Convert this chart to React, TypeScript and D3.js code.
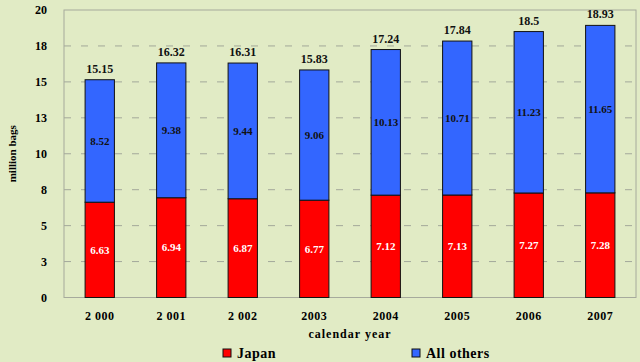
import React, { useEffect, useRef } from 'react';
import * as d3 from 'd3';

const years = ['2 000', '2 001', '2 002', '2003', '2004', '2005', '2006', '2007'];
const japan = [6.63, 6.94, 6.87, 6.77, 7.12, 7.13, 7.27, 7.28];
const others = [8.52, 9.38, 9.44, 9.06, 10.13, 10.71, 11.23, 11.65];
const totals = ['15.15', '16.32', '16.31', '15.83', '17.24', '17.84', '18.5', '18.93'];
const yTicks = [0, 2.5, 5, 7.5, 10, 12.5, 15, 17.5, 20];
const yTickLabels = ['0', '3', '5', '8', '10', '13', '15', '18', '20'];

const W = 640;
const H = 362;
const FONT = '"Liberation Serif", "Times New Roman", serif';

export default function App() {
  const svgRef = useRef<SVGSVGElement>(null);

  useEffect(() => {
    const svg = d3.select(svgRef.current);
    svg.selectAll('*').remove();

    const margin = { top: 10, right: 4, bottom: 64.5, left: 64 };

    svg.append('rect').attr('width', W).attr('height', H).attr('fill', '#e1ebc5');

    const x = d3.scaleBand()
      .domain(years)
      .range([margin.left, W - margin.right])
      .paddingInner(0.59)
      .paddingOuter(0.295);

    const y = d3.scaleLinear()
      .domain([0, 20])
      .range([H - margin.bottom, margin.top]);

    // grid lines
    svg.append('g')
      .selectAll('line')
      .data(yTicks.filter(t => t > 0 && t < 20))
      .enter()
      .append('line')
      .attr('x1', margin.left)
      .attr('x2', W - margin.right)
      .attr('y1', d => y(d))
      .attr('y2', d => y(d))
      .attr('stroke', '#a3a89a')
      .attr('stroke-width', 1)
      .attr('stroke-dasharray', '7,10');

    // plot frame
    svg.append('rect')
      .attr('x', margin.left)
      .attr('y', margin.top)
      .attr('width', W - margin.right - margin.left)
      .attr('height', y(0) - margin.top)
      .attr('fill', 'none')
      .attr('stroke', '#a6aa9c')
      .attr('stroke-width', 1);

    // y axis tick labels
    svg.append('g')
      .selectAll('text')
      .data(yTicks)
      .enter()
      .append('text')
      .attr('x', margin.left - 17)
      .attr('y', d => y(d))
      .attr('dy', '0.35em')
      .attr('text-anchor', 'end')
      .style('font-family', FONT)
      .style('font-weight', 'bold')
      .style('font-size', '12px')
      .text((d, i) => yTickLabels[i]);

    // bars
    const groups = svg.append('g')
      .selectAll('g')
      .data(years)
      .enter()
      .append('g');

    groups.append('rect')
      .attr('x', d => x(d)!)
      .attr('y', (d, i) => y(japan[i]))
      .attr('width', x.bandwidth())
      .attr('height', (d, i) => y(0) - y(japan[i]))
      .attr('fill', '#ff0000')
      .attr('stroke', '#111')
      .attr('stroke-width', 1);

    groups.append('rect')
      .attr('x', d => x(d)!)
      .attr('y', (d, i) => y(japan[i] + others[i]))
      .attr('width', x.bandwidth())
      .attr('height', (d, i) => y(japan[i]) - y(japan[i] + others[i]))
      .attr('fill', '#3366ff')
      .attr('stroke', '#111')
      .attr('stroke-width', 1);

    // segment labels
    groups.append('text')
      .attr('x', d => x(d)! + x.bandwidth() / 2)
      .attr('y', (d, i) => y(japan[i] / 2))
      .attr('dy', '0.35em')
      .attr('text-anchor', 'middle')
      .style('font-family', FONT)
      .style('font-weight', 'bold')
      .style('font-size', '11px')
      .attr('fill', '#fff')
      .text((d, i) => japan[i].toFixed(2));

    groups.append('text')
      .attr('x', d => x(d)! + x.bandwidth() / 2)
      .attr('y', (d, i) => y(japan[i] + others[i] / 2))
      .attr('dy', '0.35em')
      .attr('text-anchor', 'middle')
      .style('font-family', FONT)
      .style('font-weight', 'bold')
      .style('font-size', '11px')
      .attr('fill', '#111')
      .text((d, i) => others[i].toFixed(2));

    // totals
    groups.append('text')
      .attr('x', d => x(d)! + x.bandwidth() / 2)
      .attr('y', (d, i) => y(japan[i] + others[i]) - 7)
      .attr('text-anchor', 'middle')
      .style('font-family', FONT)
      .style('font-weight', 'bold')
      .style('font-size', '12px')
      .attr('fill', '#111')
      .text((d, i) => totals[i]);

    // x labels
    groups.append('text')
      .attr('x', d => x(d)! + x.bandwidth() / 2)
      .attr('y', y(0) + 22)
      .attr('text-anchor', 'middle')
      .style('font-family', FONT)
      .style('font-weight', 'bold')
      .style('font-size', '12px')
      .style('letter-spacing', '0.5px')
      .text(d => d);

    // axis titles
    svg.append('text')
      .attr('x', (margin.left + W - margin.right) / 2)
      .attr('y', 338)
      .attr('text-anchor', 'middle')
      .style('font-family', FONT)
      .style('font-weight', 'bold')
      .style('font-size', '12px')
      .style('letter-spacing', '1px')
      .text('calendar year');

    svg.append('text')
      .attr('transform', `translate(16, ${(margin.top + y(0)) / 2}) rotate(-90)`)
      .attr('text-anchor', 'middle')
      .style('font-family', FONT)
      .style('font-weight', 'bold')
      .style('font-size', '11px')
      .text('million bags');

    // legend
    const legend = [
      { name: 'Japan', color: '#ff0000', x: 223 },
      { name: 'All others', color: '#3366ff', x: 412 },
    ];
    const lg = svg.append('g')
      .selectAll('g')
      .data(legend)
      .enter()
      .append('g')
      .attr('transform', d => `translate(${d.x}, 349)`);
    lg.append('rect')
      .attr('width', 8)
      .attr('height', 8)
      .attr('fill', d => d.color)
      .attr('stroke', '#111')
      .attr('stroke-width', 1);
    lg.append('text')
      .attr('x', 14)
      .attr('y', 4)
      .attr('dy', '0.35em')
      .style('font-family', FONT)
      .style('font-weight', 'bold')
      .style('font-size', '14px')
      .style('letter-spacing', '0.5px')
      .text(d => d.name);
  }, []);

  return (
    <svg
      ref={svgRef}
      width={W}
      height={H}
      style={{ position: 'absolute', left: 0, top: 0, display: 'block' }}
    />
  );
}
